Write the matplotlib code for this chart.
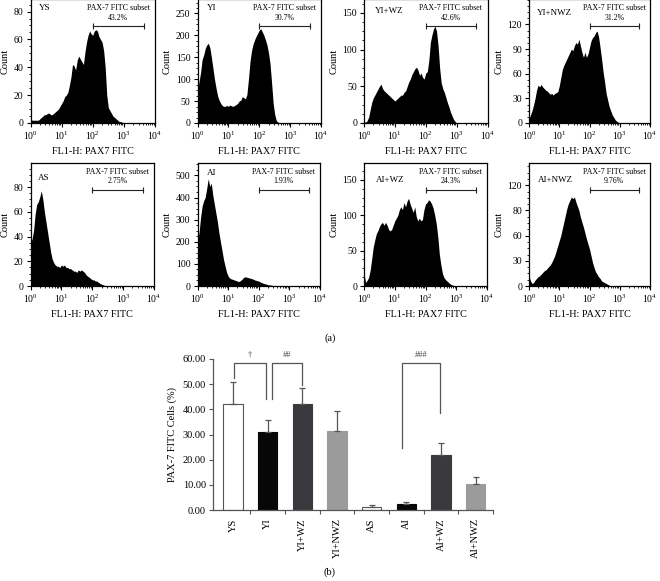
import numpy as np
import matplotlib
matplotlib.use('Agg')
import matplotlib.pyplot as plt
import matplotlib.transforms as mtransforms
from matplotlib.ticker import (AutoMinorLocator, FixedLocator, FixedFormatter,
                               LogLocator, NullFormatter, MultipleLocator)

plt.rcParams['font.family'] = ['Liberation Serif', 'DejaVu Serif']
plt.rcParams['mathtext.fontset'] = 'stix'

# --- flow cytometry histograms (counts read every 0.05 decade, from 10^0) ---
BIN_STEP = 0.05
N_BINS = 81  # covers 10^0 .. 10^4

sample_names = ['YS', 'YI', 'YI+WZ', 'YI+NWZ', 'AS', 'AI', 'AI+WZ', 'AI+NWZ']
subset_pct = ['43.2%', '30.7%', '42.6%', '31.2%', '2.75%', '1.93%', '24.3%', '9.76%']
gate_lo = 100
gate_hi = 4300

ys_counts = [3, 2, 2, 2, 2, 2, 3, 4, 5, 6, 6, 7, 7, 6, 6, 7, 8, 9, 10, 12,
             14, 16, 19, 20, 22, 27, 33, 42, 41, 38, 45, 48, 46, 44, 42, 51, 58, 63, 66, 64,
             63, 66, 67, 66, 62, 60, 58, 52, 40, 20, 11, 9, 7, 5, 4, 3, 2, 1, 1, 0.5, 0]
yi_counts = [70, 95, 115, 145, 155, 170, 178, 182, 172, 150, 125, 100, 80, 62, 52, 45, 40, 38, 38, 40,
             38, 41, 39, 38, 40, 42, 45, 50, 52, 60, 58, 55, 65, 100, 140, 165, 180, 190, 198, 205,
             212, 215, 208, 200, 190, 178, 160, 135, 92, 45, 20, 6, 2, 1, 0]
yiwz_counts = [2, 1, 3, 8, 18, 28, 34, 38, 42, 46, 50, 53, 47, 44, 42, 40, 38, 36, 34, 32,
               30, 32, 34, 36, 38, 38, 42, 44, 50, 56, 60, 66, 70, 74, 76, 72, 65, 68, 62, 60,
               68, 70, 85, 110, 120, 128, 132, 125, 105, 75, 55, 47, 42, 35, 28, 22, 15, 10, 5, 2, 0]
yinwz_counts = [5, 10, 15, 22, 30, 40, 46, 44, 47, 44, 42, 40, 39, 37, 35, 36, 34, 36, 37, 38,
                45, 55, 65, 70, 74, 78, 82, 86, 90, 88, 94, 98, 96, 102, 94, 86, 80, 86, 80, 84,
                92, 100, 104, 106, 110, 112, 105, 92, 78, 62, 50, 36, 28, 20, 15, 10, 7, 4, 2, 1, 0]
as_counts = [35, 38, 45, 58, 66, 68, 72, 77, 70, 60, 52, 44, 36, 28, 22, 19, 17, 16, 16, 15,
             17, 16, 17, 15, 15, 14, 14, 13, 12, 12, 11, 13, 12, 13, 12, 11, 9, 8, 7, 6,
             5, 5, 4, 4, 3, 2, 1.5, 1, 0.5, 0]
ai_counts = [210, 240, 310, 360, 385, 400, 440, 485, 450, 465, 410, 370, 330, 290, 240, 200, 160, 120, 90, 62,
             45, 36, 32, 30, 27, 25, 22, 20, 24, 30, 38, 42, 40, 38, 36, 34, 32, 28, 26, 24,
             22, 18, 15, 12, 10, 8, 6, 5, 4, 3, 2, 1, 0]
aiwz_counts = [18, 5, 8, 12, 22, 38, 55, 65, 74, 78, 84, 88, 90, 86, 90, 86, 80, 78, 80, 86,
               92, 96, 100, 108, 112, 108, 118, 112, 120, 124, 116, 110, 104, 112, 98, 92, 96, 92, 94, 108,
               116, 118, 122, 120, 116, 110, 100, 88, 70, 45, 30, 18, 12, 9, 7, 5, 3, 2, 1, 0]
ainwz_counts = [12, 6, 3, 4, 7, 9, 11, 12, 14, 16, 18, 19, 21, 23, 25, 28, 32, 36, 42, 48,
                54, 60, 68, 76, 84, 92, 98, 102, 106, 104, 106, 100, 95, 90, 82, 76, 70, 63, 56, 50,
                44, 36, 28, 22, 17, 14, 11, 9, 6, 5, 4, 3, 2, 1, 0]

hist_counts = [ys_counts, yi_counts, yiwz_counts, yinwz_counts,
               as_counts, ai_counts, aiwz_counts, ainwz_counts]

# axis settings per panel: y top, tick step, last tick, tick labels (None = default)
y_tops = [89, 283, 169, 151, 99.5, 556, 174, 146.5]
y_steps = [20, 50, 50, 30, 20, 100, 50, 30]
y_last = [80, 250, 150, 120, 80, 500, 150, 120]
y_labels = [None, None, None, None, None, None, None, ['0', '30', '60', '80', '120']]
name_pos = [(0.065, 0.93), (0.074, 0.93), (0.085, 0.905), (0.068, 0.89),
            (0.06, 0.876), (0.074, 0.916), (0.10, 0.86), (0.073, 0.86)]

# --- bar chart ---
groups = ['YS', 'YI', 'YI+WZ', 'YI+NWZ', 'AS', 'AI', 'AI+WZ', 'AI+NWZ']
pax7_mean = [42.0, 31.0, 42.0, 31.3, 1.2, 2.5, 21.8, 10.2]
pax7_err = [8.7, 4.8, 6.3, 8.2, 0.6, 0.7, 5.0, 3.1]
bar_colors = ['white', '#070707', '#3a3a3e', '#9b9b9b'] * 2
# (label, left x, right x, top, left leg end, right leg end)
brackets = [('\u2020', 0.03, 0.95, 58.5, 52.5, 44.0),
            ('##', 1.12, 2.0, 58.5, 44.0, 49.5),
            ('###', 4.88, 5.96, 58.5, 24.7, 38.5)]

W, H = 660, 581
fig = plt.figure(figsize=(W / 100, H / 100), dpi=100)


def px_axes(left, top, right, bottom):
    return fig.add_axes([left / W, 1 - bottom / H, (right - left) / W, (bottom - top) / H])


panel_boxes = [(30.5, -1, 155, 123), (197.5, -1, 321, 123), (364, -1, 487.5, 123), (529, -1, 650, 123),
               (30.5, 163, 154, 286), (197.5, 163, 320, 286), (364, 163, 487, 286), (529, 163, 650, 286)]

for k, box in enumerate(panel_boxes):
    ax = px_axes(*box)
    counts = np.zeros(N_BINS)
    counts[:len(hist_counts[k])] = hist_counts[k]
    fl = 10 ** (np.arange(N_BINS) * BIN_STEP)
    ax.fill_between(fl, 0, counts, color='black', lw=0)

    ax.set_xscale('log')
    ax.set_xlim(1, 1e4)
    ax.set_ylim(0, y_tops[k])
    ax.xaxis.set_major_locator(LogLocator(base=10, numticks=6))
    ax.xaxis.set_minor_locator(LogLocator(base=10, subs=np.arange(2, 10), numticks=20))
    ax.xaxis.set_minor_formatter(NullFormatter())
    ticks = list(range(0, y_last[k] + 1, y_steps[k]))
    ax.yaxis.set_major_locator(FixedLocator(ticks))
    if y_labels[k] is not None:
        ax.yaxis.set_major_formatter(FixedFormatter(y_labels[k]))
    ax.yaxis.set_minor_locator(AutoMinorLocator(4))
    ax.tick_params(which='major', direction='out', length=3, width=0.8, labelsize=7, pad=2)
    ax.tick_params(which='minor', direction='out', length=1.5, width=0.6)
    for s in ax.spines.values():
        s.set_linewidth(0.9)

    ax.set_ylabel('Count', fontsize=7.5, labelpad=3)
    ax.set_xlabel('FL1-H: PAX7 FITC', fontsize=7.3, labelpad=3)

    # sample name and gated subset
    ax.text(name_pos[k][0], name_pos[k][1], sample_names[k], transform=ax.transAxes,
            fontsize=6.5, ha='left', va='center')
    trans = mtransforms.blended_transform_factory(ax.transData, ax.transAxes)
    ax.plot([gate_lo, gate_hi], [0.78, 0.78], transform=trans, color='#222', lw=0.8,
            marker='|', markersize=4, mew=0.8, clip_on=False)
    mid = np.sqrt(gate_lo * gate_hi)
    ax.text(mid, 0.925, 'PAX-7 FITC subset', transform=trans, fontsize=5.8,
            ha='center', va='center')
    ax.text(mid, 0.85, subset_pct[k], transform=trans, fontsize=5.6,
            ha='center', va='center')

fig.text(330 / W, 1 - 338 / H, '(a)', fontsize=7.5, ha='center', va='center')

# bar chart
bx = px_axes(213, 359, 493, 510)
xpos = np.arange(len(groups))
bx.bar(xpos, pax7_mean, width=0.56, color=bar_colors,
       edgecolor=['#555' if c == 'white' else c for c in bar_colors],
       linewidth=0.8, zorder=2)
bx.errorbar(xpos, pax7_mean, yerr=[np.zeros(len(groups)), pax7_err], fmt='none',
            ecolor='#555', elinewidth=0.9, capsize=2, capthick=0.9, zorder=3)
bx.set_xlim(-0.58, 7.5)
bx.set_ylim(0, 60)
bx.yaxis.set_major_locator(MultipleLocator(10))
bx.yaxis.set_major_formatter(matplotlib.ticker.FormatStrFormatter('%.2f'))
bx.set_xticks(xpos)
bx.set_xticklabels(groups, rotation=90, fontsize=7.5)
bx.xaxis.set_minor_locator(FixedLocator(np.arange(0.5, 7.6, 1)))
bx.tick_params(axis='x', which='major', length=0, pad=6)
bx.tick_params(axis='x', which='minor', length=3, width=0.8, color='#555')
bx.tick_params(axis='y', length=3, width=0.8, color='#555', labelsize=7.5, pad=2)
for side in ['top', 'right']:
    bx.spines[side].set_visible(False)
for side in ['left', 'bottom']:
    bx.spines[side].set_color('#555')
    bx.spines[side].set_linewidth(0.9)
bx.set_ylabel('PAX-7 FITC Cells (%)', fontsize=7.5, labelpad=4)

for label, x0, x1, top, y0, y1 in brackets:
    bx.plot([x0, x0, x1, x1], [y0, top, top, y1], color='#555', lw=0.9, clip_on=False)
    bx.text((x0 + x1) / 2, top + 1.5, label, fontsize=6, color='#444',
            ha='center', va='bottom', clip_on=False)

fig.text(330 / W, 1 - 572 / H, '(b)', fontsize=7.5, ha='center', va='center')

fig.savefig('out.png', dpi=100)
